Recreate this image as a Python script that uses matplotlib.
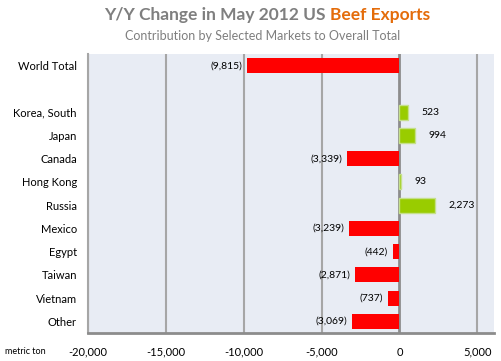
import matplotlib
matplotlib.use('Agg')
import matplotlib.pyplot as plt

markets = ['World Total', '', 'Korea, South', 'Japan', 'Canada', 'Hong Kong',
           'Russia', 'Mexico', 'Egypt', 'Taiwan', 'Vietnam', 'Other']
changes = [-9815, None, 523, 994, -3339, 93, 2273, -3239, -442, -2871, -737, -3069]
ticks = [-20000, -15000, -10000, -5000, 0, 5000]

plt.rcParams['font.family'] = ['Lato', 'DejaVu Sans']

fig = plt.figure(figsize=(5.01, 3.61), dpi=100)
ax = fig.add_axes([88/501, 1 - 333/361, 406/501, 279/361])
ax.set_facecolor('#E8ECF4')

red = '#FF0000'
green = '#99CC00'
ys = list(range(len(markets)))
for y, v in zip(ys, changes):
    if v is None:
        continue
    if v < 0:
        ax.barh(y, v, height=0.65, color=red, zorder=3)
        ax.text(v - 300, y, '(%s)' % format(-v, ','), ha='right', va='center',
                fontsize=7.5, color='black', zorder=4)
    else:
        ax.barh(y, v, height=0.65, color=green, edgecolor='#C5E08A', linewidth=1, zorder=3)
        ax.text(v + 900, y, format(v, ','), ha='left', va='center',
                fontsize=7.5, color='black', zorder=4)

ax.set_ylim(len(markets) - 0.5, -0.5)
ax.set_xlim(-20000, 6070)
ax.set_yticks(ys)
ax.set_yticklabels(markets, fontsize=8)
ax.set_xticks(ticks)
ax.set_xticklabels([format(t, ',') for t in ticks], fontsize=8)
ax.tick_params(axis='y', length=0, pad=8)
ax.tick_params(axis='x', length=0, pad=10)

for t in ticks:
    ax.axvline(t, color='#8C8C8C' if t == 0 else '#A6A6A6',
               lw=2 if t == 0 else 1.5, zorder=2)

for s in ['top', 'right']:
    ax.spines[s].set_visible(False)
ax.spines['left'].set_color('#A6A6A6')
ax.spines['left'].set_linewidth(1.5)
ax.spines['bottom'].set_color('#8C8C8C')
ax.spines['bottom'].set_linewidth(2)

fig.text(326/501, 1 - 15/361, 'Y/Y Change in May 2012 US', ha='right', va='center',
         fontsize=12.5, fontweight='bold', color='#7F7F7F')
fig.text(330/501, 1 - 15/361, 'Beef Exports', ha='left', va='center',
         fontsize=12.5, fontweight='bold', color='#E46C0A')
fig.text(263/501, 1 - 36/361, 'Contribution by Selected Markets to Overall Total',
         ha='center', va='center', fontsize=9, color='#7F7F7F')
fig.text(5/501, 1 - 352/361, 'metric ton', ha='left', va='center', fontsize=6.5,
         color='black')

fig.savefig('out.png', dpi=100)
